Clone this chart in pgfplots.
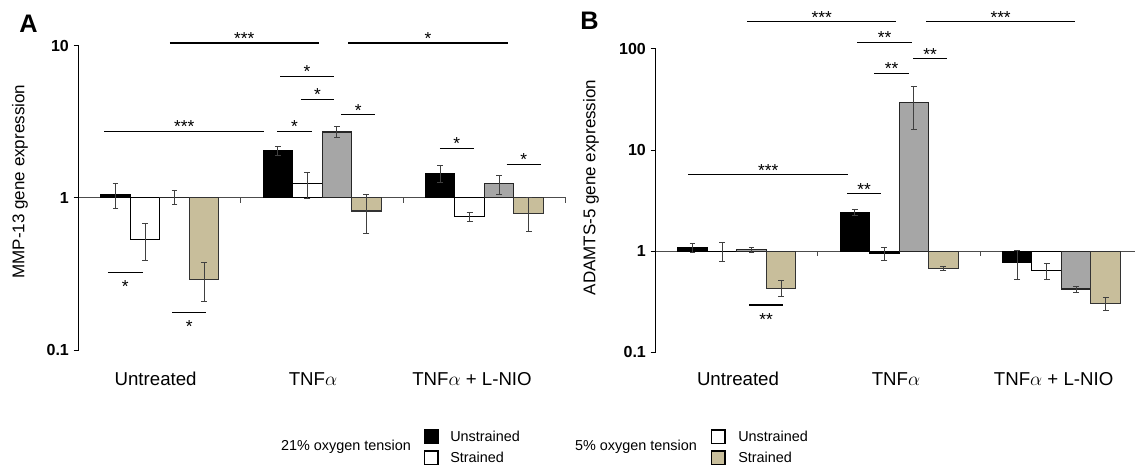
\documentclass[border=0pt]{standalone}
\usepackage{pgfplots}
\pgfplotsset{compat=1.18}
\usepackage{fontspec}
\setmainfont{Liberation Sans}
\definecolor{tanb}{HTML}{C8BE9B}
\definecolor{grayb}{HTML}{A6A6A6}
\newcommand\fs[1]{\fontsize{#1}{#1}\selectfont}
\pgfplotsset{
 eb/.style={error bars/.cd, y dir=both, y explicit,
   error bar style={black!75, line width=0.75pt},
   error mark options={rotate=90, mark size=2.2pt, black!75, line width=0.75pt}},
}
\tikzset{
 sig/.style={line width=1pt, black},
 st/.style={font=\fs{13}, inner sep=0pt},
}
\begin{document}
\begin{tikzpicture}[x=0.75pt,y=-0.75pt]
\path[use as bounding box] (0,0) rectangle (1135,467);
% ---------------- Panel A ----------------
\begin{axis}[anchor=south west, at={(58.95pt,-262.5pt)}, scale only axis, width=365.25pt, height=228.2pt,
   xmin=-0.5, xmax=2.5, ymin=0.1, ymax=10, ymode=log,
   axis x line=none, axis y line*=left,
   y axis line style={-, black, line width=0.75pt},
   yminorticks=false, tick align=outside, major tick length=3.75pt,
   ytick style={black, line width=0.75pt},
   yticklabel style={font=\fs{12}\bfseries},
   clip=false, ybar, bar width=0.1818, bar shift=0pt, xtick=\empty,
   ytick={0.1,1,10}, yticklabels={\textbf{0.1},\textbf{1},\textbf{10}}]
\draw[black!70, line width=0.75pt] (axis cs:-0.5,1) -- (axis cs:2.5,1);
\draw[black!70, line width=0.75pt] (axis cs:0.5,1) -- ++(0pt,-3.75pt);
\draw[black!70, line width=0.75pt] (axis cs:1.5,1) -- ++(0pt,-3.75pt);
\draw[black!70, line width=0.75pt] (axis cs:2.5,1) -- ++(0pt,-3.75pt);
\addplot[fill=black, draw=black, line width=0.8pt, eb] table[x=x,y=y,y error plus=ep,y error minus=em] {
x y ep em
-0.2727 1.057 0.19 0.21
0.7273 2.04 0.13 0.13
1.7273 1.445 0.19 0.19
};
\addplot[fill=white, draw=black, line width=0.8pt, eb] table[x=x,y=y,y error plus=ep,y error minus=em] {
x y ep em
-0.0909 0.535 0.147 0.148
0.9091 1.236 0.24 0.25
1.9091 0.754 0.05 0.05
};
\addplot[fill=grayb, draw=black!85, line width=0.8pt, eb] table[x=x,y=y,y error plus=ep,y error minus=em] {
x y ep em
0.0909 1.01 0.10 0.10
1.0909 2.71 0.23 0.22
2.0909 1.236 0.17 0.18
};
\addplot[fill=tanb, draw=black!80, line width=0.8pt, eb] table[x=x,y=y,y error plus=ep,y error minus=em] {
x y ep em
0.2727 0.29 0.088 0.082
1.2727 0.82 0.24 0.234
2.2727 0.79 0.21 0.19
};
\draw[sig, line width=1.6pt] (axis cs:0.0616,10.40) -- (axis cs:0.979,10.40) node[midway, st, yshift=3.5pt]{***};
\draw[sig] (axis cs:1.160,10.40) -- (axis cs:2.146,10.40) node[midway, st, yshift=3.5pt]{*};
\draw[sig] (axis cs:0.741,6.28) -- (axis cs:1.074,6.28) node[midway, st, yshift=3.5pt]{*};
\draw[sig] (axis cs:0.869,4.45) -- (axis cs:1.074,4.45) node[midway, st, yshift=3.5pt]{*};
\draw[sig] (axis cs:1.117,3.52) -- (axis cs:1.327,3.52) node[midway, st, yshift=3.5pt]{*};
\draw[sig] (axis cs:-0.341,2.73) -- (axis cs:0.643,2.73) node[midway, st, yshift=3.5pt]{***};
\draw[sig] (axis cs:0.724,2.73) -- (axis cs:0.935,2.73) node[midway, st, yshift=3.5pt]{*};
\draw[sig] (axis cs:1.725,2.12) -- (axis cs:1.934,2.12) node[midway, st, yshift=3.5pt]{*};
\draw[sig] (axis cs:2.137,1.664) -- (axis cs:2.348,1.664) node[midway, st, yshift=3.5pt]{*};
\draw[sig] (axis cs:-0.319,0.324) -- (axis cs:-0.105,0.324) node[midway, st, yshift=-10.4pt]{*};
\draw[sig] (axis cs:0.077,0.1768) -- (axis cs:0.285,0.1768) node[midway, st, yshift=-10.4pt]{*};
\end{axis}
% ---------------- Panel B ----------------
\begin{axis}[anchor=south west, at={(491.7pt,-264.225pt)}, scale only axis, width=365.25pt, height=227.5pt,
   xmin=-0.5, xmax=2.5, ymin=0.1, ymax=100, ymode=log,
   axis x line=none, axis y line*=left,
   y axis line style={-, black, line width=0.75pt},
   yminorticks=false, tick align=outside, major tick length=3.75pt,
   ytick style={black, line width=0.75pt},
   yticklabel style={font=\fs{12}\bfseries},
   clip=false, ybar, bar width=0.1818, bar shift=0pt, xtick=\empty,
   ytick={0.1,1,10,100}, yticklabels={\textbf{0.1},\textbf{1},\textbf{10},\textbf{100}}]
\draw[black!70, line width=0.75pt] (axis cs:-0.5,1) -- (axis cs:2.5,1);
\draw[black!70, line width=0.75pt] (axis cs:0.5,1) -- ++(0pt,-3.75pt);
\draw[black!70, line width=0.75pt] (axis cs:1.5,1) -- ++(0pt,-3.75pt);
\addplot[fill=black, draw=black, line width=0.8pt, eb] table[x=x,y=y,y error plus=ep,y error minus=em] {
x y ep em
-0.2727 1.078 0.10 0.10
0.7273 2.41 0.15 0.15
1.7273 0.765 0.245 0.245
};
\addplot[fill=white, draw=black, line width=0.8pt, eb] table[x=x,y=y,y error plus=ep,y error minus=em] {
x y ep em
-0.0909 0.99 0.23 0.20
0.9091 0.96 0.14 0.15
1.9091 0.638 0.11 0.114
};
\addplot[fill=grayb, draw=black!85, line width=0.8pt, eb] table[x=x,y=y,y error plus=ep,y error minus=em] {
x y ep em
0.0909 1.03 0.06 0.07
1.0909 29.4 13.6 13.4
2.0909 0.423 0.027 0.03
};
\addplot[fill=tanb, draw=black!80, line width=0.8pt, eb] table[x=x,y=y,y error plus=ep,y error minus=em] {
x y ep em
0.2727 0.427 0.081 0.074
1.2727 0.674 0.026 0.024
2.2727 0.303 0.047 0.045
};
\draw[sig, line width=1.3pt] (axis cs:0.0647,187) -- (axis cs:0.9815,187) node[midway, st, yshift=3.2pt]{***};
\draw[sig, line width=1.3pt] (axis cs:1.1657,187) -- (axis cs:2.085,187) node[midway, st, yshift=3.2pt]{***};
\draw[sig] (axis cs:0.742,116.5) -- (axis cs:1.0795,116.5) node[midway, st, yshift=3.2pt]{**};
\draw[sig] (axis cs:1.0857,80.2) -- (axis cs:1.295,80.2) node[midway, st, yshift=3.2pt]{**};
\draw[sig] (axis cs:0.848,57.5) -- (axis cs:1.059,57.5) node[midway, st, yshift=3.2pt]{**};
\draw[sig] (axis cs:-0.2994,5.745) -- (axis cs:0.6864,5.745) node[midway, st, yshift=3.2pt]{***};
\draw[sig] (axis cs:0.679,3.727) -- (axis cs:0.891,3.727) node[midway, st, yshift=3.2pt]{**};
\draw[sig] (axis cs:0.0758,0.294) -- (axis cs:0.2865,0.294) node[midway, st, yshift=-11.2pt]{**};
\end{axis}
% ---------------- labels ----------------
\node[font=\fs{19}\bfseries] at (28.6,23.3) {A};
\node[font=\fs{19}\bfseries] at (589.5,21) {B};
\node[rotate=90, font=\fs{12.75}] at (20,181.6) {MMP-13 gene expression};
\node[rotate=90, font=\fs{12.75}] at (591,187.5) {ADAMTS-5 gene expression};
\node[font=\fs{14}] at (155.6,379) {Untreated};
\node[font=\fs{14}] at (313,379) {TNF$\alpha$};
\node[font=\fs{14}] at (472,379) {TNF$\alpha$ + L-NIO};
\node[font=\fs{14}] at (738,379) {Untreated};
\node[font=\fs{14}] at (896,379) {TNF$\alpha$};
\node[font=\fs{14}] at (1053.6,379) {TNF$\alpha$ + L-NIO};
% ---------------- legend ----------------
\node[font=\fs{10.8}] at (346,447) {21\% oxygen tension};
\draw[black, line width=0.9pt, fill=black] (424.5,430) rectangle (438,443.3);
\draw[black, line width=0.9pt, fill=white] (424.5,451) rectangle (438,464.3);
\node[font=\fs{10.8}, anchor=west, inner sep=0pt] at (450,436) {Unstrained};
\node[font=\fs{10.8}, anchor=west, inner sep=0pt] at (450,457.5) {Strained};
\node[font=\fs{10.8}] at (636,447) {5\% oxygen tension};
\draw[black, line width=0.9pt, fill=white] (711.5,430) rectangle (725,443.3);
\draw[black, line width=0.9pt, fill=tanb] (711.5,451) rectangle (725,464.3);
\node[font=\fs{10.8}, anchor=west, inner sep=0pt] at (738,436) {Unstrained};
\node[font=\fs{10.8}, anchor=west, inner sep=0pt] at (738,457.5) {Strained};
\end{tikzpicture}
\end{document}
